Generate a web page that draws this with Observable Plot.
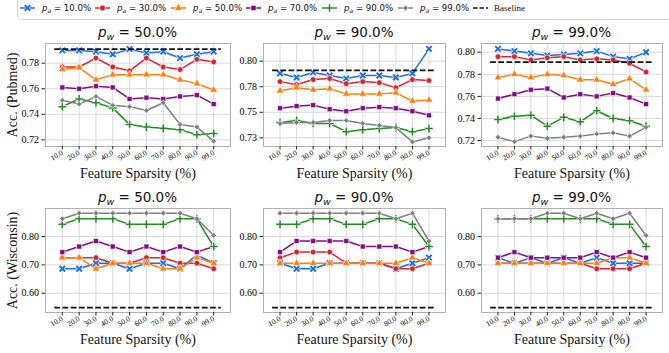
<!DOCTYPE html>
<html>
<head>
<meta charset="utf-8">
<script src="https://cdn.jsdelivr.net/npm/d3@7"></script>
<script src="https://cdn.jsdelivr.net/npm/@observablehq/plot@0.6"></script>
<style>
  body { margin: 0; background: #fff; }
  #chart { position: relative; width: 669px; height: 353px; overflow: hidden; background: #fff; }
  .panel { position: absolute; }
  .title { position: absolute; font-family: "DejaVu Sans", sans-serif; font-size: 13.5px; white-space: nowrap; transform: translate(-50%, -50%); color: #111; line-height: 1; }
  .title i, .leg i { font-style: italic; }
  .title sub { font-size: 70%; vertical-align: -0.3em; line-height: 0; font-style: italic; }
  .legend-box { position: absolute; left: 17px; top: -6px; width: 670px; height: 26px; border: 1px solid #d4d4d4; border-radius: 4px; box-sizing: border-box; }
  .leg { position: absolute; top: 8px; transform: translateY(-50%); font-family: "DejaVu Sans", sans-serif; font-size: 8.6px; white-space: nowrap; line-height: 1; color: #111; }
  .leg sub { font-size: 70%; vertical-align: -0.3em; line-height: 0; font-style: italic; }
  .leg.serif { font-family: "Liberation Serif", "DejaVu Serif", serif; font-size: 9px; }
  .sw { position: absolute; top: 3px; }
</style>
</head>
<body>
<div id="chart"></div>
<script>
// Feature sparsity levels (x axis) and experiment settings
const sparsity = ["10.0", "20.0", "30.0", "40.0", "50.0", "60.0", "70.0", "80.0", "90.0", "99.0"];
const pwLevels = ["50.0%", "90.0%", "99.0%"];
const paLevels = ["10.0%", "30.0%", "50.0%", "70.0%", "90.0%", "99.0%"];
const seriesColors = ["#1b6fe0", "#d42634", "#ff7f0e", "#7d0f80", "#1f8a1f", "#7f7f7f"];
const seriesSymbols = ["times", "circle", "triangle", "square", "plus", "diamond2"];

// Baselines
const baselinePubmed = 0.791;
const baselineWisconsin = 0.549;

// Pubmed accuracy, one row per p_a (10, 30, 50, 70, 90, 99 %)
const pubmedPw50 = [
  [0.790, 0.790, 0.789, 0.787, 0.791, 0.788, 0.789, 0.784, 0.787, 0.789],
  [0.777, 0.777, 0.784, 0.777, 0.774, 0.784, 0.777, 0.775, 0.783, 0.781],
  [0.775, 0.7765, 0.767, 0.771, 0.771, 0.771, 0.771, 0.767, 0.764, 0.759],
  [0.761, 0.760, 0.762, 0.761, 0.752, 0.753, 0.752, 0.754, 0.755, 0.748],
  [0.746, 0.752, 0.749, 0.745, 0.732, 0.730, 0.729, 0.728, 0.724, 0.725],
  [0.751, 0.748, 0.754, 0.747, 0.746, 0.743, 0.749, 0.732, 0.730, 0.719]
];
const pubmedPw90 = [
  [0.788, 0.784, 0.789, 0.786, 0.783, 0.786, 0.786, 0.784, 0.788, 0.812],
  [0.780, 0.777, 0.782, 0.783, 0.778, 0.780, 0.779, 0.774, 0.782, 0.781],
  [0.771, 0.774, 0.772, 0.773, 0.768, 0.768, 0.768, 0.769, 0.761, 0.762],
  [0.754, 0.756, 0.757, 0.753, 0.751, 0.754, 0.755, 0.754, 0.751, 0.747],
  [0.740, 0.742, 0.739, 0.739, 0.731, 0.733, 0.734, 0.735, 0.731, 0.734],
  [0.739, 0.740, 0.740, 0.742, 0.742, 0.739, 0.737, 0.735, 0.721, 0.725]
];
const pubmedPw99 = [
  [0.803, 0.801, 0.799, 0.797, 0.798, 0.799, 0.801, 0.796, 0.794, 0.800],
  [0.796, 0.796, 0.793, 0.795, 0.796, 0.793, 0.794, 0.793, 0.790, 0.782],
  [0.777, 0.780, 0.777, 0.780, 0.779, 0.775, 0.775, 0.771, 0.776, 0.766],
  [0.758, 0.762, 0.766, 0.767, 0.759, 0.762, 0.760, 0.763, 0.759, 0.753],
  [0.739, 0.742, 0.743, 0.733, 0.741, 0.737, 0.747, 0.740, 0.738, 0.733],
  [0.723, 0.719, 0.724, 0.722, 0.723, 0.724, 0.726, 0.727, 0.724, 0.732]
];

// Wisconsin accuracy, one row per p_a
const wisconsinPw50 = [
  [0.6863, 0.6863, 0.7059, 0.7059, 0.6863, 0.7059, 0.7059, 0.6863, 0.7353, 0.7059],
  [0.7255, 0.7255, 0.7255, 0.7059, 0.7059, 0.7255, 0.7255, 0.7059, 0.7059, 0.6863],
  [0.7255, 0.7255, 0.6863, 0.7059, 0.7059, 0.7059, 0.6863, 0.6863, 0.7255, 0.7059],
  [0.7451, 0.7647, 0.7843, 0.7647, 0.7451, 0.7647, 0.7451, 0.7647, 0.7451, 0.7647],
  [0.8431, 0.8627, 0.8627, 0.8627, 0.8431, 0.8431, 0.8431, 0.8627, 0.8627, 0.7647],
  [0.8627, 0.8824, 0.8824, 0.8824, 0.8824, 0.8824, 0.8824, 0.8824, 0.8627, 0.8039]
];
const wisconsinPw90 = [
  [0.7059, 0.6863, 0.6863, 0.7059, 0.7059, 0.7059, 0.7059, 0.6863, 0.7059, 0.7255],
  [0.7255, 0.7451, 0.7451, 0.7451, 0.7059, 0.7059, 0.7059, 0.6863, 0.6863, 0.7059],
  [0.7059, 0.7059, 0.7059, 0.7059, 0.7059, 0.7059, 0.7059, 0.7059, 0.7255, 0.7059],
  [0.7451, 0.7843, 0.7843, 0.7843, 0.7843, 0.7647, 0.7647, 0.7647, 0.7451, 0.7647],
  [0.8431, 0.8431, 0.8627, 0.8627, 0.8431, 0.8431, 0.8627, 0.8627, 0.8431, 0.7647],
  [0.8824, 0.8824, 0.8824, 0.8824, 0.8824, 0.8824, 0.8824, 0.8627, 0.8824, 0.7843]
];
const wisconsinPw99 = [
  [0.7255, 0.7059, 0.7255, 0.7059, 0.7255, 0.7059, 0.7255, 0.7059, 0.7059, 0.7059],
  [0.7059, 0.7059, 0.7059, 0.7059, 0.7059, 0.7059, 0.6863, 0.6863, 0.6863, 0.7059],
  [0.7059, 0.7059, 0.7059, 0.7059, 0.7059, 0.7059, 0.7059, 0.7255, 0.7255, 0.7059],
  [0.7255, 0.7451, 0.7255, 0.7255, 0.7255, 0.7255, 0.7451, 0.7255, 0.7451, 0.7255],
  [0.8627, 0.8627, 0.8627, 0.8627, 0.8627, 0.8627, 0.8627, 0.8431, 0.8431, 0.7647],
  [0.8627, 0.8627, 0.8627, 0.8824, 0.8824, 0.8627, 0.8824, 0.8627, 0.8824, 0.8039]
];

// y-axis ticks and their labels for each panel
const pubmedTicks50 = [0.72, 0.74, 0.76, 0.78];
const pubmedLabels50 = ["0.72", "0.74", "0.76", "0.78"];
const pubmedTicks90 = [0.725, 0.75, 0.775, 0.80];
const pubmedLabels90 = ["0.73", "0.75", "0.78", "0.80"];
const pubmedTicks99 = [0.72, 0.74, 0.76, 0.78, 0.80];
const pubmedLabels99 = ["0.72", "0.74", "0.76", "0.78", "0.80"];
const wisconsinTicks = [0.60, 0.70, 0.80];
const wisconsinLabels = ["0.60", "0.70", "0.80"];

// ---- layout ----
const colFrames = [[45, 230], [263, 445], [481, 662]];
const rowFrames = [[43, 146], [208, 312]];
const SERIF = "'Liberation Serif', 'DejaVu Serif', serif";
const chart = document.getElementById("chart");

function panel({rows, baseline, ticks, labels, yDomain, ylabel, col, row, pw}) {
  const [fl, fr] = colFrames[col];
  const [ft, fb] = rowFrames[row];
  const ml = 45, mr = 6, mt = 4, mb = 44;
  const data = rows.flatMap((vals, s) => vals.map((v, i) => ({i, v, s})));
  const xs = d3.range(sparsity.length);

  const marks = [
    Plot.gridX(xs, {stroke: "#d9d9d9", strokeOpacity: 1, strokeWidth: 1}),
    Plot.gridY(ticks, {stroke: "#d9d9d9", strokeOpacity: 1, strokeWidth: 1}),
    Plot.frame({stroke: "#b0b0b0", strokeWidth: 1}),
    Plot.axisX(xs, {
      tickFormat: (i) => sparsity[i], tickRotate: -30, tickSize: 3.5, tickPadding: 2,
      fontSize: 7.5, fontFamily: SERIF, label: null, stroke: "#222"
    }),
    Plot.axisY(ticks, {
      tickFormat: (d, i) => labels[i], tickSize: 3.5, tickPadding: 3,
      fontSize: 10, fontFamily: SERIF, label: null, stroke: "#222"
    }),
    Plot.text(["Feature Sparsity (%)"], {
      text: (d) => d, frameAnchor: "bottom", dy: 27, lineAnchor: "middle",
      fontSize: 14, fontFamily: SERIF, fill: "#111"
    })
  ];
  if (ylabel) {
    marks.push(Plot.text([ylabel], {
      text: (d) => d, frameAnchor: "left", dx: -33, rotate: -90,
      textAnchor: "middle", lineAnchor: "middle", fontSize: 14, fontFamily: SERIF, fill: "#111"
    }));
  }
  paLevels.forEach((p, s) => {
    const d = data.filter((e) => e.s === s);
    const color = seriesColors[s];
    const sym = seriesSymbols[s];
    marks.push(Plot.line(d, {x: "i", y: "v", stroke: color, strokeWidth: 1.5}));
    if (sym === "times" || sym === "plus") {
      marks.push(Plot.dot(d, {x: "i", y: "v", symbol: sym, r: 2.6, stroke: "white", strokeWidth: 3.2}));
      marks.push(Plot.dot(d, {x: "i", y: "v", symbol: sym, r: 2.6, stroke: color, strokeWidth: sym === "times" ? 1.9 : 1.5}));
    } else {
      marks.push(Plot.dot(d, {
        x: "i", y: "v", symbol: sym, r: sym === "diamond2" ? 2.6 : 2.9,
        fill: color, stroke: "white", strokeWidth: 0.7
      }));
    }
  });
  marks.push(Plot.ruleY([baseline], {
    y: (d) => d, x1: -0.45, x2: 9.45, stroke: "#111", strokeWidth: 1.8, strokeDasharray: "5.8,2.4"
  }));

  const svg = Plot.plot({
    width: (fr - fl) + ml + mr,
    height: (fb - ft) + mt + mb,
    marginLeft: ml, marginRight: mr, marginTop: mt, marginBottom: mb,
    x: {type: "linear", domain: [-1, 10], axis: null},
    y: {type: "linear", domain: yDomain, axis: null},
    style: {background: "transparent", maxWidth: "none", overflow: "visible"},
    marks
  });
  svg.classList.add("panel");
  svg.style.left = (fl - ml) + "px";
  svg.style.top = (ft - mt) + "px";
  chart.appendChild(svg);

  const t = document.createElement("div");
  t.className = "title";
  t.style.left = ((fl + fr) / 2) + "px";
  t.style.top = (ft - 10) + "px";
  t.innerHTML = `<i>p</i><sub>w</sub> = ${pw}`;
  chart.appendChild(t);
}

panel({rows: pubmedPw50, baseline: baselinePubmed, ticks: pubmedTicks50, labels: pubmedLabels50,
  yDomain: [0.7148, 0.7954], ylabel: "Acc. (Pubmed)", col: 0, row: 0, pw: pwLevels[0]});
panel({rows: pubmedPw90, baseline: baselinePubmed, ticks: pubmedTicks90, labels: pubmedLabels90,
  yDomain: [0.7165, 0.8173], col: 1, row: 0, pw: pwLevels[1]});
panel({rows: pubmedPw99, baseline: baselinePubmed, ticks: pubmedTicks99, labels: pubmedLabels99,
  yDomain: [0.7146, 0.8079], col: 2, row: 0, pw: pwLevels[2]});
panel({rows: wisconsinPw50, baseline: baselineWisconsin, ticks: wisconsinTicks, labels: wisconsinLabels,
  yDomain: [0.532, 0.899], ylabel: "Acc. (Wisconsin)", col: 0, row: 1, pw: pwLevels[0]});
panel({rows: wisconsinPw90, baseline: baselineWisconsin, ticks: wisconsinTicks, labels: wisconsinLabels,
  yDomain: [0.532, 0.899], col: 1, row: 1, pw: pwLevels[1]});
panel({rows: wisconsinPw99, baseline: baselineWisconsin, ticks: wisconsinTicks, labels: wisconsinLabels,
  yDomain: [0.532, 0.899], col: 2, row: 1, pw: pwLevels[2]});

// ---- legend ----
const box = document.createElement("div");
box.className = "legend-box";
chart.appendChild(box);
const legendX = [20, 95, 171, 246, 322, 398, 473];
function swatch(x, color, sym, dashed) {
  const svg = d3.create("svg").attr("class", "sw").attr("width", 16).attr("height", 10)
    .style("left", x + "px").style("overflow", "visible");
  svg.append("line").attr("x1", 0).attr("x2", 15).attr("y1", 5).attr("y2", 5)
    .attr("stroke", color).attr("stroke-width", 1.5)
    .attr("stroke-dasharray", dashed ? "4.5,2" : null);
  if (sym) {
    const symbolMap = {times: d3.symbolTimes, plus: d3.symbolPlus, circle: d3.symbolCircle,
      triangle: d3.symbolTriangle, square: d3.symbolSquare, diamond2: d3.symbolDiamond2};
    const r = sym === "diamond2" ? 2.6 : (sym === "times" || sym === "plus") ? 2.6 : 3;
    const path = d3.symbol(symbolMap[sym], Math.PI * r * r)();
    const g = svg.append("g").attr("transform", "translate(7.5,5)");
    if (sym === "times" || sym === "plus") {
      g.append("path").attr("d", path).attr("fill", "none").attr("stroke", "white").attr("stroke-width", 3);
      g.append("path").attr("d", path).attr("fill", "none").attr("stroke", color).attr("stroke-width", sym === "times" ? 1.9 : 1.5);
    } else {
      g.append("path").attr("d", path).attr("fill", color).attr("stroke", "white").attr("stroke-width", 0.7);
    }
  }
  chart.appendChild(svg.node());
}
paLevels.forEach((p, s) => {
  swatch(legendX[s], seriesColors[s], seriesSymbols[s], false);
  const lab = document.createElement("div");
  lab.className = "leg";
  lab.style.left = (legendX[s] + 22) + "px";
  lab.innerHTML = `<i>p</i><sub>a</sub> = ${p}`;
  chart.appendChild(lab);
});
swatch(legendX[6], "#111", null, true);
const bl = document.createElement("div");
bl.className = "leg serif";
bl.style.left = (legendX[6] + 21) + "px";
bl.textContent = "Baseline";
chart.appendChild(bl);
</script>
</body>
</html>
